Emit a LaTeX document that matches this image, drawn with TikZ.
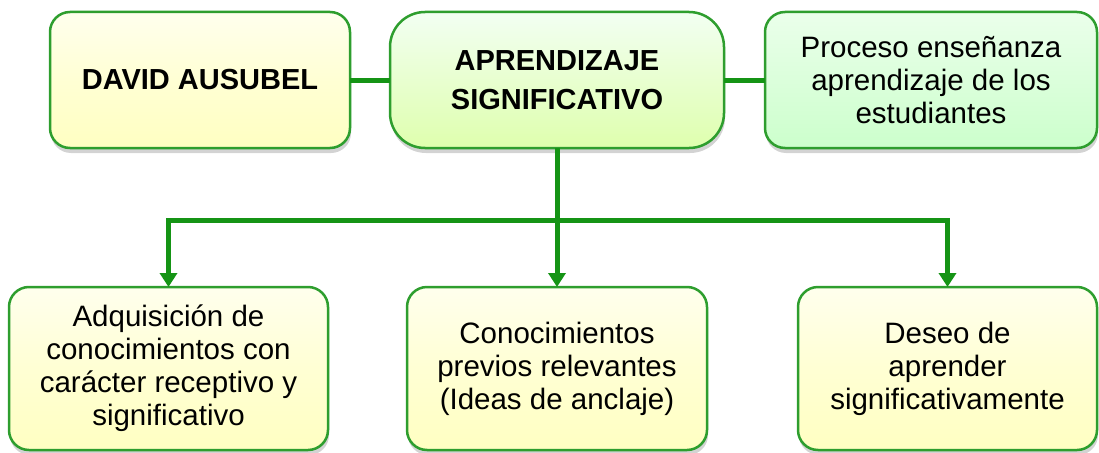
\documentclass[tikz,border=0pt]{standalone}
\usepackage{fontspec}
\setmainfont{Liberation Sans}
\usetikzlibrary{shapes.geometric, arrows.meta, positioning, shadows}

\definecolor{boxline}{HTML}{2E9E2E}
\definecolor{linkgreen}{HTML}{159415}

\begin{document}
\begin{tikzpicture}[x=1pt, y=-1pt,
  box/.style={rectangle, rounded corners=20pt, draw=boxline, line width=2.5pt, outer sep=0pt, text centered, align=center, font=\fontsize{29.5}{33}\selectfont, drop shadow={shadow xshift=1pt, shadow yshift=-5pt, opacity=0.35}},
  yellowbox/.style={box, top color=yellow!7!white, bottom color=yellow!24!white, middle color=yellow!17!white},
  limebox/.style={box, rounded corners=35pt, top color=green!5!white, bottom color=green!40!yellow!32!white},
  mintbox/.style={box, top color=green!8!white, bottom color=green!20!white},
  link/.style={draw=linkgreen, line width=5pt},
  arrow/.style={link, -{Triangle[width=17pt,length=14pt]}}]

  \useasboundingbox (0,0) rectangle (1099,452);

  % Nodes
  \node (ausubel) [yellowbox, minimum width=300pt, minimum height=136pt, font=\fontsize{29}{33}\selectfont\bfseries] at (200,80) {DAVID AUSUBEL};
  \node (signif) [limebox, minimum width=334pt, minimum height=136pt, font=\fontsize{29}{39}\selectfont\bfseries, right=40pt of ausubel] {APRENDIZAJE \\ SIGNIFICATIVO};
  \node (proceso) [mintbox, minimum width=332pt, minimum height=136pt, right=41pt of signif] {Proceso enseñanza \\ aprendizaje de los \\ estudiantes};

  \node (adquis) [yellowbox, minimum width=319pt, minimum height=163pt] at (168.5,368.5) {Adquisición de \\ conocimientos con \\ carácter receptivo y \\ significativo};
  \node (previos) [yellowbox, minimum width=300pt, minimum height=163pt, right=79pt of adquis] {Conocimientos \\ previos relevantes \\ (Ideas de anclaje)};
  \node (deseo) [yellowbox, minimum width=299pt, minimum height=163pt, right=91pt of previos] {Deseo de \\ aprender \\ significativamente};

  \path (signif.south) ++(0,72) coordinate (bus);

  % Arrows
  \draw [link] (ausubel) -- (signif);
  \draw [link] (signif) -- (proceso);
  \draw [link] (signif.south) -- (bus);

  \draw [arrow] (bus) -| (adquis);
  \draw [arrow] (bus) -- (previos);
  \draw [arrow] (bus) -| (deseo);
\end{tikzpicture}
\end{document}
